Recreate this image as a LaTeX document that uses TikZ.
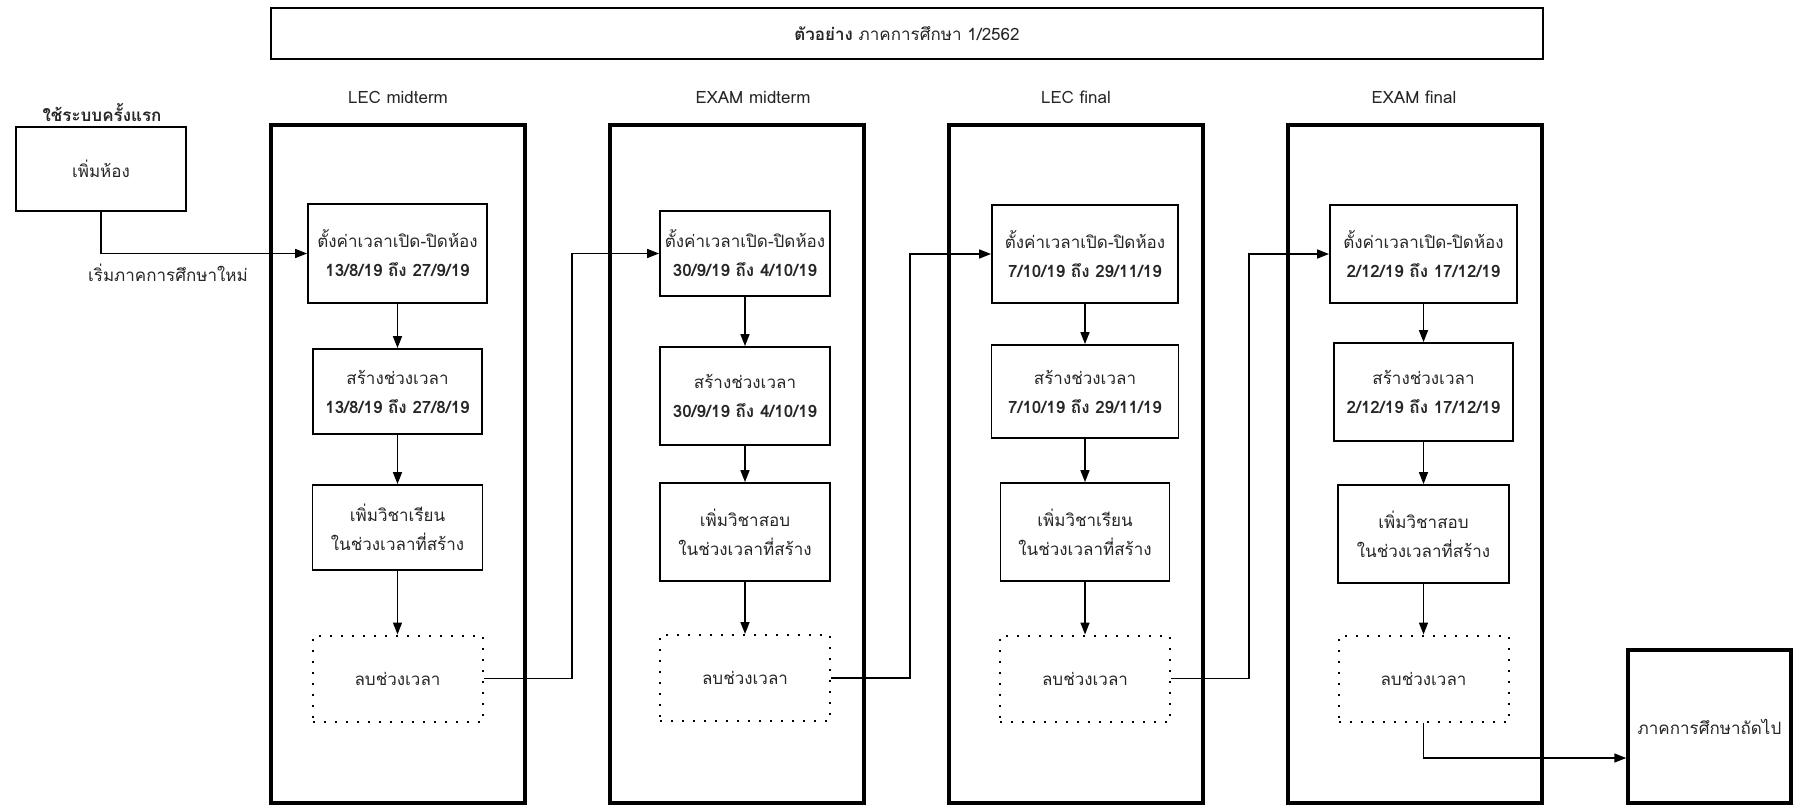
\documentclass[tikz,border=0pt]{standalone}
\usepackage{fontspec}
\setmainfont[Script=Thai]{Loma}
\usetikzlibrary{arrows.meta}
\begin{document}
\begin{tikzpicture}[x=1pt,y=-1pt,
  txt/.style={font=\fontsize{17}{29}\selectfont, text=black!85, align=center, inner sep=0pt},
  bigbox/.style={draw, line width=4pt, minimum width=254pt, minimum height=678pt, inner sep=0pt},
  stepbox/.style={draw, line width=1.8pt, txt, minimum width=#1},
  stepbox/.default=170pt,
  dotbox/.style={draw, line width=2pt, dash pattern=on 2pt off 9pt, txt, minimum width=170pt, minimum height=86pt},
  conn/.style={line width=1.6pt, -{Triangle[length=12pt,width=9pt]}},
  plain/.style={line width=1.6pt},
  dt/.style={font=\fontsize{17}{29}\selectfont\bfseries}
]
\useasboundingbox (0,0) rectangle (1794,805);
\fill[white] (0,0) rectangle (1794,805);

% title
\node[draw, line width=1.8pt, minimum width=1272pt, minimum height=51pt, txt] (title) at (907,33.5) {\textbf{ตัวอย่าง} ภาคการศึกษา 1/2562};

% start
\node[txt, font=\fontsize{17}{29}\selectfont\bfseries] (startlbl) at (102,113) {ใช้ระบบครั้งแรก};
\node[draw, line width=1.8pt, minimum width=170pt, minimum height=84pt, txt] (s) at (101,169) {เพิ่มห้อง};
\node[txt] (newsem) at (168,273) {เริ่มภาคการศึกษาใหม่};

% column containers and labels
\node[bigbox] (k1) at (398,464) {};
\node[bigbox] (k2) at (737,464) {};
\node[bigbox] (k3) at (1075.5,464) {};
\node[bigbox] (k4) at (1415,464) {};
\node[txt] (l1) at (398,97) {LEC midterm};
\node[txt] (l2) at (753,97) {EXAM midterm};
\node[txt] (l3) at (1076,97) {LEC final};
\node[txt] (l4) at (1414,97) {EXAM final};

% column 1
\node[stepbox=179pt, minimum height=99pt] (a1) at (397.5,253.5) {ตั้งค่าเวลาเปิด-ปิดห้อง\\{\bfseries 13/8/19 ถึง 27/9/19}};
\node[stepbox=169pt, minimum height=85pt] (a2) at (397.5,391.5) {สร้างช่วงเวลา\\{\bfseries 13/8/19 ถึง 27/8/19}};
\node[stepbox=170pt, minimum height=85pt] (a3) at (397.5,527.5) {เพิ่มวิชาเรียน\\ในช่วงเวลาที่สร้าง};
\node[dotbox] (a4) at (397.5,678.5) {ลบช่วงเวลา};

% column 2
\node[stepbox=170pt, minimum height=85pt] (b1) at (745,253.5) {ตั้งค่าเวลาเปิด-ปิดห้อง\\{\bfseries 30/9/19 ถึง 4/10/19}};
\node[stepbox=170pt, minimum height=98pt] (b2) at (745,396) {สร้างช่วงเวลา\\{\bfseries 30/9/19 ถึง 4/10/19}};
\node[stepbox=170pt, minimum height=98pt] (b3) at (745,532) {เพิ่มวิชาสอบ\\ในช่วงเวลาที่สร้าง};
\node[dotbox] (b4) at (745,678) {ลบช่วงเวลา};

% column 3
\node[stepbox=186pt, minimum height=98pt] (c1) at (1085,254) {ตั้งค่าเวลาเปิด-ปิดห้อง\\{\bfseries 7/10/19 ถึง 29/11/19}};
\node[stepbox=187pt, minimum height=93pt] (c2) at (1085,391.5) {สร้างช่วงเวลา\\{\bfseries 7/10/19 ถึง 29/11/19}};
\node[stepbox=169pt, minimum height=98pt] (c3) at (1085,532) {เพิ่มวิชาเรียน\\ในช่วงเวลาที่สร้าง};
\node[dotbox] (c4) at (1085,678.5) {ลบช่วงเวลา};

% column 4
\node[stepbox=187pt, minimum height=98pt] (d1) at (1423.5,254) {ตั้งค่าเวลาเปิด-ปิดห้อง\\{\bfseries 2/12/19 ถึง 17/12/19}};
\node[stepbox=179pt, minimum height=98pt] (d2) at (1423.5,392) {สร้างช่วงเวลา\\{\bfseries 2/12/19 ถึง 17/12/19}};
\node[stepbox=171pt, minimum height=98pt] (d3) at (1423.5,534) {เพิ่มวิชาสอบ\\ในช่วงเวลาที่สร้าง};
\node[dotbox] (d4) at (1423.5,678.5) {ลบช่วงเวลา};

% next semester
\node[draw, line width=3.5pt, minimum width=163pt, minimum height=153pt, txt] (f) at (1709.5,726.5) {ภาคการศึกษาถัดไป};

% junction coordinates
\coordinate (j1) at (572,0);
\coordinate (j2) at (910,0);
\coordinate (j3) at (1249,0);
\coordinate (j4) at (0,758);

% connectors
\draw[conn] (s.south) |- (a1.west);
\foreach \p in {a,b,c,d}{
  \draw[conn] (\p1.south) -- (\p1.south |- \p2.north);
  \draw[conn] (\p2.south) -- (\p2.south |- \p3.north);
  \draw[conn] (\p3.south) -- (\p3.south |- \p4.north);
}
\draw[conn] (a4.east) -- (a4.east -| j1) |- (b1.west);
\draw[conn] (b4.east) -- (b4.east -| j2) |- (c1.west);
\draw[conn] (c4.east) -- (c4.east -| j3) |- (d1.west);
\draw[conn] (d4.south) -- (d4.south |- j4) -- (f.west |- j4);
\end{tikzpicture}
\end{document}
